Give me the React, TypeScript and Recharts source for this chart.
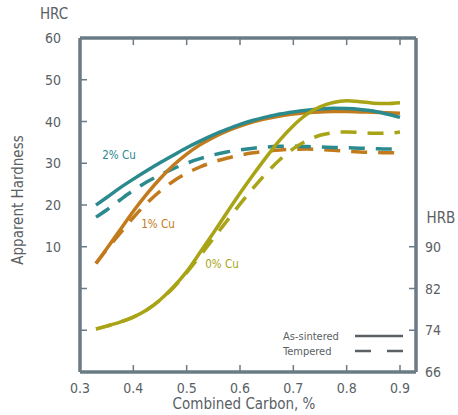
import React from "react";
import { LineChart, Line, XAxis, YAxis } from "recharts";

const carbon = [0.33, 0.35, 0.375, 0.4, 0.425, 0.45, 0.475, 0.5, 0.525, 0.55, 0.575, 0.6, 0.625, 0.65, 0.675, 0.7, 0.725, 0.75, 0.775, 0.8, 0.825, 0.85, 0.875, 0.9];
const cu2Sintered = [20, 21.8, 24.1, 26.2, 28.2, 30.1, 31.9, 33.7, 35.3, 36.8, 38.1, 39.3, 40.3, 41.1, 41.8, 42.3, 42.7, 43.0, 43.15, 43.1, 42.9, 42.5, 41.8, 41.0];
const cu2Tempered = [17.1, 18.8, 21.2, 23.5, 25.5, 27.2, 28.7, 30, 31.1, 32, 32.7, 33.2, 33.6, 33.9, 34.05, 34.1, 34, 33.9, 33.8, 33.7, 33.6, 33.5, 33.4, 33.4];
const cu1Sintered = [6, 9.5, 14, 18.5, 22.6, 26.3, 29.5, 32.2, 34.4, 36.2, 37.7, 38.9, 39.9, 40.7, 41.3, 41.8, 42.1, 42.3, 42.4, 42.4, 42.3, 42.2, 42.1, 42];
const cu1Tempered = [6, 9.3, 13.2, 17, 20.4, 23.3, 25.7, 27.6, 29.1, 30.3, 31.2, 31.95, 32.5, 32.9, 33.2, 33.35, 33.4, 33.3, 33.1, 32.9, 32.7, 32.6, 32.5, 32.5];
const cu0Sintered = [-9.7, -9.0, -8.05, -6.85, -5.15, -2.75, 0.35, 4.05, 8.6, 13.3, 18.1, 22.8, 27.3, 31.6, 35.6, 39.0, 41.7, 43.5, 44.55, 44.95, 44.75, 44.4, 44.3, 44.5];
const cu0Tempered = [-9.7, -9.0, -8.05, -6.85, -5.15, -2.8, 0.2, 3.8, 7.8, 12.0, 16.1, 20.2, 24.1, 27.7, 30.9, 33.5, 35.4, 36.7, 37.3, 37.5, 37.35, 37.2, 37.2, 37.5];

const xTicks = [0.3, 0.4, 0.5, 0.6, 0.7, 0.8, 0.9];
const hrcTicks = [-10, 0, 10, 20, 30, 40, 50, 60];
const hrbTicks = [66, 74, 82, 90];

const data = carbon.map((c, i) => ({
  c,
  cu2s: cu2Sintered[i],
  cu2t: cu2Tempered[i],
  cu1s: cu1Sintered[i],
  cu1t: cu1Tempered[i],
  cu0s: cu0Sintered[i],
  cu0t: cu0Tempered[i],
}));

const TEAL = "#2a8a8e";
const ORANGE = "#c27b1c";
const OLIVE = "#a9a416";
const FRAME = "#6b7b85";
const TEXT = "#5a6064";
const FONT = "'Liberation Sans Narrow', 'DejaVu Sans Condensed', 'Liberation Sans', sans-serif";

const BottomTick = (props: any) => {
  const { x, y, payload } = props;
  return (
    <g>
      {payload.value > 0.31 && <line x1={x} y1={y} x2={x} y2={y - 7} stroke={FRAME} strokeWidth={1.5} />}
      <text x={x} y={y + 21} textAnchor="middle" fontSize={14} fill={TEXT} fontFamily={FONT}>
        {payload.value.toFixed(1)}
      </text>
    </g>
  );
};

const TopTick = (props: any) => {
  const { x, y, payload } = props;
  if (payload.value < 0.31) return <g />;
  return <line x1={x} y1={y} x2={x} y2={y + 7} stroke={FRAME} strokeWidth={1.5} />;
};

const LeftTick = (props: any) => {
  const { x, y, payload } = props;
  return (
    <g>
      {payload.value < 60 && <line x1={x} y1={y} x2={x + 7} y2={y} stroke={FRAME} strokeWidth={1.5} />}
      {payload.value >= 10 && (
        <text x={x - 19} y={y} dy="0.36em" textAnchor="end" fontSize={14} fill={TEXT} fontFamily={FONT}>
          {payload.value}
        </text>
      )}
    </g>
  );
};

const RightTick = (props: any) => {
  const { x, y, payload } = props;
  return (
    <g>
      {payload.value > 66 && <line x1={x} y1={y} x2={x - 7} y2={y} stroke={FRAME} strokeWidth={1.5} />}
      <text x={x + 9} y={y} dy="0.36em" textAnchor="start" fontSize={14} fill={TEXT} fontFamily={FONT}>
        {payload.value}
      </text>
    </g>
  );
};

export default function App() {
  return (
    <div style={{ position: "absolute", left: 0, top: 0, width: 458, height: 415, background: "#fff" }}>
      <LineChart width={458} height={415} data={data} margin={{ top: 0, right: 0, bottom: 0, left: 0 }}>
        <XAxis
          dataKey="c"
          type="number"
          domain={[0.3, 0.93]}
          ticks={xTicks}
          allowDataOverflow
          height={43}
          tickSize={0}
          tickMargin={0}
          tickLine={false}
          axisLine={{ stroke: FRAME, strokeWidth: 3.5 }}
          tick={<BottomTick />}
          interval={0}
        />
        <XAxis
          xAxisId="top"
          orientation="top"
          dataKey="c"
          type="number"
          domain={[0.3, 0.93]}
          ticks={xTicks}
          allowDataOverflow
          height={38}
          tickSize={0}
          tickMargin={0}
          tickLine={false}
          axisLine={{ stroke: FRAME, strokeWidth: 3.5 }}
          tick={<TopTick />}
          interval={0}
        />
        <YAxis
          yAxisId="left"
          type="number"
          domain={[-20, 60]}
          ticks={hrcTicks}
          allowDataOverflow
          width={80}
          tickSize={0}
          tickMargin={0}
          tickLine={false}
          axisLine={{ stroke: FRAME, strokeWidth: 3.5 }}
          tick={<LeftTick />}
          interval={0}
        />
        <YAxis
          yAxisId="right"
          orientation="right"
          type="number"
          domain={[66, 130]}
          ticks={hrbTicks}
          allowDataOverflow
          width={42}
          tickSize={0}
          tickMargin={0}
          tickLine={false}
          axisLine={{ stroke: FRAME, strokeWidth: 3.5 }}
          tick={<RightTick />}
          interval={0}
        />
        <Line yAxisId="left" type="monotone" dataKey="cu1t" stroke={ORANGE} strokeWidth={3.5} strokeDasharray="16 11" dot={false} isAnimationActive={false} />
        <Line yAxisId="left" type="monotone" dataKey="cu2t" stroke={TEAL} strokeWidth={3.5} strokeDasharray="16 11" dot={false} isAnimationActive={false} />
        <Line yAxisId="left" type="monotone" dataKey="cu1s" stroke={ORANGE} strokeWidth={3.5} dot={false} isAnimationActive={false} />
        <Line yAxisId="left" type="monotone" dataKey="cu2s" stroke={TEAL} strokeWidth={3.5} dot={false} isAnimationActive={false} />
        <Line yAxisId="left" type="monotone" dataKey="cu0t" stroke={OLIVE} strokeWidth={3.5} strokeDasharray="16 11" dot={false} isAnimationActive={false} />
        <Line yAxisId="left" type="monotone" dataKey="cu0s" stroke={OLIVE} strokeWidth={3.5} dot={false} isAnimationActive={false} />
      </LineChart>
      <svg width={458} height={415} style={{ position: "absolute", left: 0, top: 0, pointerEvents: "none" }}>
        <g fontFamily={FONT}>
          <text x={54} y={19} textAnchor="middle" fontSize={15} fill={TEXT}>HRC</text>
          <text x={441} y={223} textAnchor="middle" fontSize={15} fill={TEXT}>HRB</text>
          <text x={244} y={409} textAnchor="middle" fontSize={15} fill={TEXT}>Combined Carbon, %</text>
          <text x={23} y={200} textAnchor="middle" fontSize={15} fill={TEXT} transform="rotate(-90 23 200)">Apparent Hardness</text>
          <text x={119} y={159} textAnchor="middle" fontSize={11.5} fill={TEAL}>2% Cu</text>
          <text x={158} y={228} textAnchor="middle" fontSize={11.5} fill={ORANGE}>1% Cu</text>
          <text x={222} y={268} textAnchor="middle" fontSize={11.5} fill={OLIVE}>0% Cu</text>
          <text x={283} y={340} fontSize={11} fill={TEXT}>As-sintered</text>
          <text x={283} y={355} fontSize={11} fill={TEXT}>Tempered</text>
          <line x1={355} y1={336} x2={403} y2={336} stroke={TEXT} strokeWidth={2.5} />
          <line x1={355} y1={351} x2={404} y2={351} stroke={TEXT} strokeWidth={2.5} strokeDasharray="16 16" />
        </g>
      </svg>
    </div>
  );
}
